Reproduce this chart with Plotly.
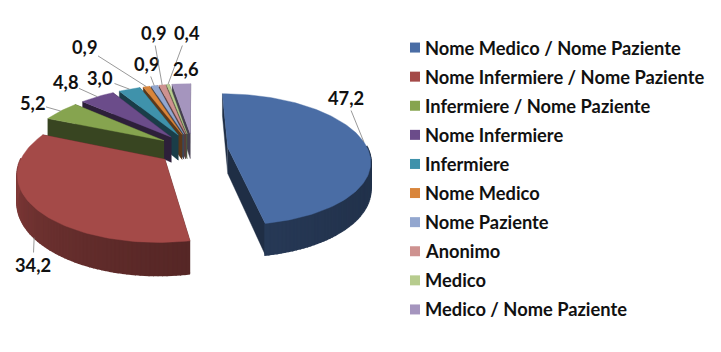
import numpy as np
import plotly.graph_objects as go

# ---- data ----
categories = ["Nome Medico / Nome Paziente", "Nome Infermiere / Nome Paziente",
              "Infermiere / Nome Paziente", "Nome Infermiere", "Infermiere",
              "Nome Medico", "Nome Paziente", "Anonimo", "Medico",
              "Medico / Nome Paziente"]
values = [47.2, 34.2, 5.2, 4.8, 3.0, 0.9, 0.9, 0.9, 0.4, 2.6]
value_labels = ["47,2", "34,2", "5,2", "4,8", "3,0", "0,9", "0,9", "0,9", "0,4", "2,6"]
colors = ["#4A6DA5", "#A44A48", "#86A44F", "#6B4C8A", "#3F92AB",
          "#D9853B", "#93A7CF", "#CE9290", "#B7CC8E", "#A595BE"]
label_pos = [(346, 98), (33, 265), (32, 103), (65, 82), (100, 78),
             (84, 47), (146, 64), (153, 33), (187, 33), (185, 69)]

# ---- projection of the tilted, exploded pie ----
CX, CY = 193, 149
A, B = 140, 64       # disc radii on screen
P = 0.18             # perspective strength
H = 26               # thickness
EXPLODE = 0.25
FONT = dict(family="Lato", size=18.3, color="#111111", weight="bold")


def proj(X, Y, drop=0.0):
    s = 1 / (1 - P * np.asarray(Y, dtype=float))
    return CX + A * np.asarray(X) * s, CY + B * np.asarray(Y) * s + drop * H * s


def shade(hex_color, f):
    r, g, b = (int(hex_color[i:i + 2], 16) for i in (1, 3, 5))
    return f"rgb({r * f:.0f},{g * f:.0f},{b * f:.0f})"


def poly(xs, ys, color, width=0.4):
    return go.Scatter(x=list(xs), y=list(ys), mode="lines", fill="toself", fillcolor=color,
                      line=dict(width=width, color=color), hoverinfo="skip", showlegend=False,
                      xaxis="x", yaxis="y")


total = sum(values)
edges = np.cumsum([0] + values) / total * 2 * np.pi
mids = (edges[:-1] + edges[1:]) / 2
off_x = EXPLODE * np.sin(mids)
off_y = -EXPLODE * np.cos(mids)

fig = go.Figure()
order = [9, 8, 7, 6, 5, 4, 3, 2, 0, 1]
for i in order:
    t0, t1 = edges[i], edges[i + 1]
    th = np.linspace(t0, t1, max(4, int((t1 - t0) * 40)))
    X = off_x[i] + np.sin(th)
    Y = off_y[i] - np.cos(th)
    ax_, ay_ = off_x[i], off_y[i]
    wall = shade(colors[i], 0.42)
    # radial walls
    for (ex, ey) in ((X[-1], Y[-1]), (X[0], Y[0])):
        x1, y1 = proj([ax_, ex], [ay_, ey])
        x2, y2 = proj([ex, ax_], [ey, ay_], 1)
        fig.add_trace(poly(np.r_[x1, x2], np.r_[y1, y2], wall))
    # outer wall, shaded strip by strip
    for k in range(len(th) - 1):
        if np.cos((th[k] + th[k + 1]) / 2) > 0.02:
            continue
        deg = np.degrees((th[k] + th[k + 1]) / 2)
        f = 0.45 + 0.45 * np.clip((deg - 90) / 200, 0, 1) ** 2
        x1, y1 = proj(X[k:k + 2], Y[k:k + 2])
        x2, y2 = proj(X[k:k + 2][::-1], Y[k:k + 2][::-1], 1)
        fig.add_trace(poly(np.r_[x1, x2], np.r_[y1, y2], shade(colors[i], f), width=2))
    # top surface
    xt, yt = proj(np.r_[ax_, X, ax_], np.r_[ay_, Y, ay_])
    fig.add_trace(poly(xt, yt, colors[i]))

# ---- value labels with leader lines ----
for i, lab in enumerate(value_labels):
    lx, ly = label_pos[i]
    if i == 9:
        fig.add_annotation(x=lx, y=ly, xref="x", yref="y", text=lab, showarrow=False, font=FONT)
        continue
    xa, ya = proj(off_x[i] + np.sin(mids[i]), off_y[i] - np.cos(mids[i]), 1 if i == 1 else 0)
    fig.add_annotation(x=float(xa), y=float(ya), ax=lx, ay=ly, axref="x", ayref="y",
                       xref="x", yref="y", text=lab, showarrow=True, arrowhead=0,
                       arrowwidth=0.8, arrowcolor="#7f7f7f", font=FONT)

# ---- key, one row per category ----
for i, cat in enumerate(categories):
    fig.add_trace(go.Scatter(x=[415], y=[cat], mode="markers", name=cat,
                             marker=dict(symbol="square", size=10, color=colors[i]),
                             hoverinfo="skip", showlegend=False, xaxis="x", yaxis="y2",
                             cliponaxis=False))
    fig.add_annotation(x=423, y=cat, xref="x", yref="y2", text=cat, showarrow=False,
                       xanchor="left", font=FONT)

fig.update_layout(
    width=721, height=352, margin=dict(l=0, r=0, t=0, b=0),
    paper_bgcolor="white", plot_bgcolor="rgba(0,0,0,0)", showlegend=False,
    xaxis=dict(range=[0, 721], visible=False, fixedrange=True),
    yaxis=dict(range=[352, 0], visible=False, fixedrange=True),
    yaxis2=dict(type="category", categoryorder="array", categoryarray=categories,
                range=[9.5, -0.5], domain=[1 - 324 / 352, 1 - 33 / 352],
                visible=False, anchor="x", fixedrange=True),
)
fig.write_html("out.html", config={"displayModeBar": False},
               post_script="document.body.style.margin='0';")
